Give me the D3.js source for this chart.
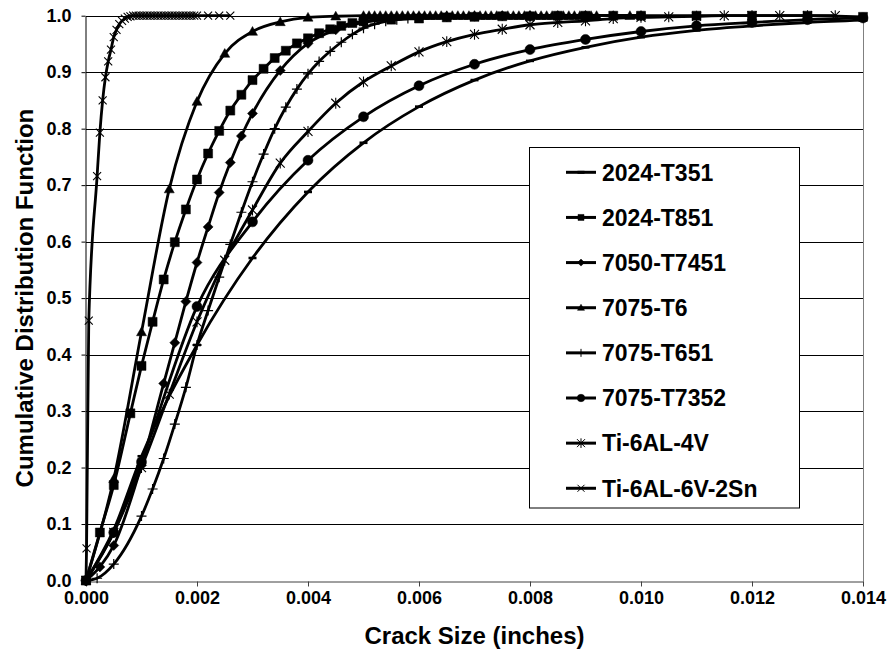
<!DOCTYPE html>
<html>
<head>
<meta charset="utf-8">
<script src="https://cdn.jsdelivr.net/npm/d3@7/dist/d3.min.js"></script>
<style>
  body { margin: 0; background: #fff; }
  text { font-family: "Liberation Sans", Arial, sans-serif; font-weight: bold; fill: #000; }
</style>
</head>
<body>
<svg id="chart" width="891" height="654"></svg>
<script>
// series names, in legend order
const seriesNames = ["2024-T351", "2024-T851", "7050-T7451", "7075-T6", "7075-T651", "7075-T7352", "Ti-6AL-4V", "Ti-6AL-6V-2Sn"]

const xTicks = [0, 0.002, 0.004, 0.006, 0.008, 0.010, 0.012, 0.014]
const yTicks = [0, 0.1, 0.2, 0.3, 0.4, 0.5, 0.6, 0.7, 0.8, 0.9, 1.0]

// [crack size, CDF]
const t351 = [[0,0],[0.0005,0.09],[0.001,0.22],[0.002,0.417],[0.003,0.571],[0.004,0.688],[0.005,0.775],[0.006,0.839],[0.007,0.886],[0.008,0.92],[0.009,0.944],[0.010,0.962],[0.011,0.974],[0.012,0.982],[0.013,0.988],[0.014,0.992]]

const t851 = [[0,0],[0.00025,0.085],[0.0005,0.169],[0.0008,0.296],[0.001,0.38],[0.0012,0.458],[0.0014,0.533],[0.0016,0.599],[0.0018,0.657],[0.002,0.71],[0.0022,0.756],[0.0024,0.796],[0.0026,0.832],[0.0028,0.86],[0.003,0.886],[0.0032,0.906],[0.0034,0.925],[0.0036,0.938],[0.0038,0.951],[0.004,0.96],[0.0042,0.969],[0.0044,0.976],[0.0046,0.982],[0.0048,0.987],[0.005,0.99],[0.0055,0.993],[0.006,0.995],[0.0065,0.997],[0.007,0.998],[0.0075,0.999],[0.008,0.999],[0.0085,1],[0.009,1],[0.0095,1],[0.010,1],[0.011,1],[0.012,1],[0.013,1],[0.014,0.998]]

const t7451 = [[0,0],[0.00025,0.024],[0.0005,0.062],[0.001,0.204],[0.0014,0.349],[0.0016,0.421],[0.0018,0.494],[0.002,0.563],[0.0022,0.626],[0.0024,0.687],[0.0026,0.74],[0.0028,0.787],[0.003,0.827],[0.0035,0.903],[0.004,0.951],[0.0045,0.975],[0.005,0.988],[0.0055,0.994],[0.006,0.997],[0.0065,0.998],[0.007,0.999],[0.0075,1],[0.008,1],[0.0085,1],[0.009,1],[0.0095,1],[0.010,1]]

const t6 = [[0,0],[0.0005,0.18],[0.001,0.44],[0.0015,0.693],[0.002,0.848],[0.0025,0.933],[0.003,0.972],[0.0035,0.989],[0.004,0.997],[0.0045,0.999],
  [0.0050,1],[0.0051,1],[0.0052,1],[0.0053,1],[0.0054,1],[0.0055,1],[0.0056,1],[0.0057,1],[0.0058,1],[0.0059,1],
  [0.0060,1],[0.0061,1],[0.0062,1],[0.0063,1],[0.0064,1],[0.0065,1],[0.0066,1],[0.0067,1],[0.0068,1],[0.0069,1],
  [0.0070,1],[0.0071,1],[0.0072,1],[0.0073,1],[0.0074,1],[0.0075,1],[0.0076,1],[0.0077,1],[0.0078,1],[0.0079,1],
  [0.0080,1],[0.0081,1],[0.0082,1],[0.0083,1],[0.0084,1],[0.0085,1],[0.0086,1],[0.0087,1],[0.0088,1],[0.0089,1],
  [0.0090,1],[0.0091,1],[0.0092,1],[0.0098,1]]

const t651 = [[0,0],[0.0002,0.004],[0.0005,0.029],[0.001,0.114],[0.0012,0.162],[0.0014,0.216],[0.0016,0.277],[0.0018,0.342],[0.002,0.417],[0.0022,0.478],[0.0024,0.537],[0.0026,0.595],[0.0028,0.652],[0.003,0.706],[0.0032,0.755],[0.0034,0.8],[0.0036,0.838],[0.0038,0.87],[0.004,0.897],[0.0042,0.919],[0.0044,0.937],[0.0046,0.953],[0.0048,0.967],[0.005,0.978],[0.0052,0.985],[0.0054,0.99],[0.0056,0.993],[0.0058,0.995],[0.006,0.997],[0.0065,0.999],[0.007,1],[0.008,1],[0.009,1],[0.010,1]]

const t7352 = [[0,0],[0.0005,0.085],[0.001,0.21],[0.002,0.485],[0.003,0.635],[0.004,0.744],[0.005,0.821],[0.006,0.876],[0.007,0.914],[0.008,0.94],[0.009,0.958],[0.010,0.972],[0.011,0.982],[0.012,0.988],[0.013,0.993],[0.014,0.996]]

const ti4v = [[0,0],[0.0005,0.085],[0.001,0.2],[0.0015,0.33],[0.002,0.458],[0.0025,0.567],[0.003,0.656],[0.0035,0.739],[0.004,0.795],[0.0045,0.845],[0.005,0.883],[0.0055,0.911],[0.006,0.936],[0.0065,0.954],[0.007,0.967],[0.0075,0.976],[0.008,0.984],[0.0085,0.988],[0.009,0.991],[0.0095,0.995],[0.010,0.997],[0.0105,0.998],[0.011,0.999],[0.0115,1],[0.012,1],[0.0125,1],[0.013,1],[0.0135,1]]

const ti6v2sn = [[0,0],[0.00001,0.057],[0.00005,0.46],[0.0002,0.716],[0.00025,0.793],[0.0003,0.85],[0.00035,0.891],[0.0004,0.919],[0.00045,0.94],[0.0005,0.962],[0.00055,0.975],[0.0006,0.985],[0.00065,0.991],[0.0007,0.995],[0.00075,0.998],[0.0008,0.999],
  [0.00085,1],[0.0009,1],[0.00095,1],[0.001,1],[0.00105,1],[0.0011,1],[0.00115,1],[0.0012,1],[0.00125,1],[0.0013,1],[0.00135,1],[0.0014,1],[0.00145,1],[0.0015,1],[0.00155,1],[0.0016,1],[0.00165,1],[0.0017,1],[0.00175,1],[0.0018,1],[0.00185,1],[0.0019,1],[0.00195,1],[0.002,1],
  [0.0022,1],[0.0024,1],[0.0026,1]]

const seriesData = [t351, t851, t7451, t6, t651, t7352, ti4v, ti6v2sn]

// custom marker shapes, size = width in px
const symDash = { draw(c, s) { const r = s / 2; c.moveTo(-r, 0); c.lineTo(r, 0) } }
const symPlus = { draw(c, s) { const r = s / 2; c.moveTo(-r, 0); c.lineTo(r, 0); c.moveTo(0, -r); c.lineTo(0, r) } }
const symX = { draw(c, s) { const r = s / 2; c.moveTo(-r, -r); c.lineTo(r, r); c.moveTo(-r, r); c.lineTo(r, -r) } }
const symStar = { draw(c, s) { const r = s / 2; c.moveTo(-r, -r); c.lineTo(r, r); c.moveTo(-r, r); c.lineTo(r, -r); c.moveTo(0, -r * 1.2); c.lineTo(0, r * 1.2) } }
const symSquare = { draw(c, s) { const r = s / 2; c.rect(-r, -r, s, s) } }
const symDiamond = { draw(c, s) { const r = s / 2; c.moveTo(0, -r); c.lineTo(r, 0); c.lineTo(0, r); c.lineTo(-r, 0); c.closePath() } }
const symTri = { draw(c, s) { const r = s / 2; c.moveTo(0, -r); c.lineTo(r, r * 0.75); c.lineTo(-r, r * 0.75); c.closePath() } }
const symCircle = { draw(c, s) { const r = s / 2; c.moveTo(r, 0); c.arc(0, 0, r, 0, 2 * Math.PI) } }

const markers = [
  { type: symDash, size: 8, fill: false, sw: 2.6, leg: 7 },
  { type: symSquare, size: 9, fill: true, sw: 0.5, leg: 6 },
  { type: symDiamond, size: 10, fill: true, sw: 0.5, leg: 7 },
  { type: symTri, size: 10, fill: true, sw: 0.5, leg: 7 },
  { type: symPlus, size: 10, fill: false, sw: 1.2, leg: 8 },
  { type: symCircle, size: 10, fill: true, sw: 0.5, leg: 7.5 },
  { type: symStar, size: 9, fill: false, sw: 1.1, leg: 8 },
  { type: symX, size: 8, fill: false, sw: 1.1, leg: 7 }
]

const svg = d3.select("#chart")
const plotLeft = 86, plotRight = 863, plotTop = 15.7, plotBottom = 580.5

const x = d3.scaleLinear().domain([0, 0.014]).range([plotLeft, plotRight])
const y = d3.scaleLinear().domain([0, 1]).range([plotBottom, plotTop])

// gridlines
svg.append("g")
  .selectAll("line")
  .data(yTicks.slice(1))
  .join("line")
  .attr("x1", plotLeft).attr("x2", plotRight)
  .attr("y1", (d) => Math.round(y(d)) + 0.5).attr("y2", (d) => Math.round(y(d)) + 0.5)
  .attr("stroke", "#000").attr("stroke-width", 1)

// right plot border
svg.append("line")
  .attr("x1", plotRight + 0.5).attr("x2", plotRight + 0.5)
  .attr("y1", Math.round(plotTop) + 0.5).attr("y2", Math.round(plotBottom) + 0.5)
  .attr("stroke", "#808080")

// x axis
const xAxis = svg.append("g")
  .attr("transform", `translate(0,${Math.round(plotBottom) + 0.5})`)
  .call(d3.axisBottom(x).tickValues(xTicks).tickFormat(d3.format(".3f")).tickSize(5).tickSizeOuter(0))
xAxis.select(".domain").attr("stroke", "#404040")
xAxis.selectAll(".tick line").attr("stroke", "#404040")
xAxis.selectAll(".tick text").attr("y", 10).attr("dy", "0.71em").style("font-size", "18px")

// y axis
const yAxis = svg.append("g")
  .attr("transform", `translate(${plotLeft - 0.5},0)`)
  .call(d3.axisLeft(y).tickValues(yTicks).tickFormat(d3.format(".1f")).tickSize(4).tickSizeOuter(0))
yAxis.select(".domain").attr("stroke", "#000")
yAxis.selectAll(".tick line").attr("stroke", "#000")
yAxis.selectAll(".tick text").attr("x", -14).style("font-size", "18px")

// axis titles
svg.append("text")
  .attr("x", (plotLeft + plotRight) / 2).attr("y", 644)
  .attr("text-anchor", "middle")
  .style("font-size", "24px")
  .text("Crack Size (inches)")

svg.append("text")
  .attr("transform", `translate(33,${(plotTop + plotBottom) / 2}) rotate(-90)`)
  .attr("text-anchor", "middle")
  .style("font-size", "24px")
  .text("Cumulative Distribution Function")

// series
const line = d3.line()
  .x((d) => x(d[0]))
  .y((d) => y(d[1]))
  .curve(d3.curveMonotoneX)

const plot = svg.append("g")
seriesData.forEach((data, i) => {
  const m = markers[i]
  const g = plot.append("g").attr("class", "series")
  g.append("path")
    .attr("d", line(data))
    .attr("fill", "none")
    .attr("stroke", "#000")
    .attr("stroke-width", 2.8)
  g.selectAll("path.mark")
    .data(data)
    .join("path")
    .attr("class", "mark")
    .attr("transform", (d) => `translate(${x(d[0])},${y(d[1])})`)
    .attr("d", d3.symbol().type(m.type).size(m.size))
    .attr("fill", m.fill ? "#000" : "none")
    .attr("stroke", "#000")
    .attr("stroke-width", m.sw)
})

// legend
const legX = 529.5, legY = 147.5, legW = 270, legH = 360.5
const legend = svg.append("g")
legend.append("rect")
  .attr("x", legX).attr("y", legY).attr("width", legW).attr("height", legH)
  .attr("fill", "#fff").attr("stroke", "#000").attr("stroke-width", 1)

const item = legend.selectAll("g.item")
  .data(seriesNames)
  .join("g")
  .attr("class", "item")
  .attr("transform", (d, i) => `translate(0,${172.3 + i * 45.14})`)

item.append("line")
  .attr("x1", 566).attr("x2", 596)
  .attr("stroke", "#000").attr("stroke-width", 3)

item.append("path")
  .attr("transform", "translate(581,0)")
  .attr("d", (d, i) => d3.symbol().type(markers[i].type).size(markers[i].leg)())
  .attr("fill", (d, i) => markers[i].fill ? "#000" : "none")
  .attr("stroke", "#000")
  .attr("stroke-width", (d, i) => markers[i].fill ? 0.5 : (i === 0 ? 3 : 1))

item.append("text")
  .attr("x", 602)
  .attr("dy", "0.36em")
  .style("font-size", "23px")
  .text((d) => d)
</script>
</body>
</html>
